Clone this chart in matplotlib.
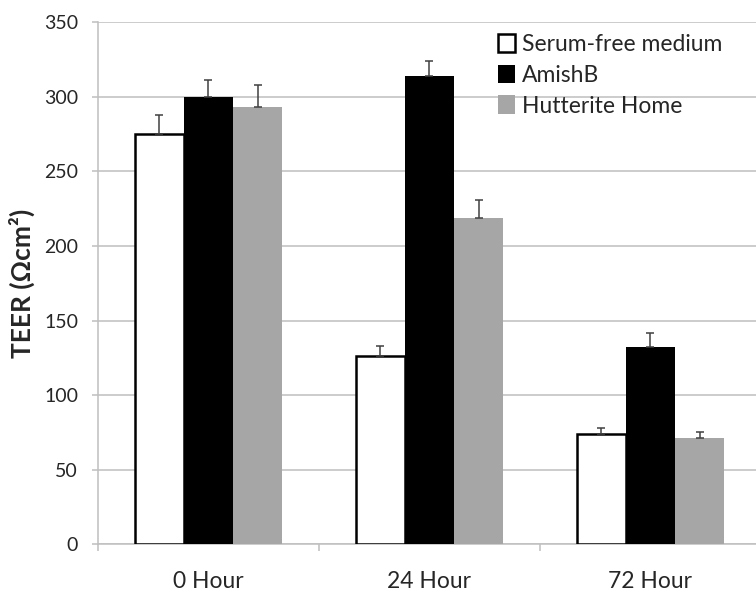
import matplotlib
matplotlib.use("Agg")
import matplotlib.pyplot as plt
import numpy as np
from matplotlib.patches import Patch

plt.rcParams["font.family"] = ["Lato", "DejaVu Sans"]

categories = ["0 Hour", "24 Hour", "72 Hour"]
series = ["Serum-free medium", "AmishB", "Hutterite Home"]
serum_free = [275, 126, 74]
amish_b = [300, 314, 132]
hutterite = [293, 219, 71]
serum_free_err = [13, 7, 4]
amish_b_err = [11, 10, 10]
hutterite_err = [15, 12, 4]

values = [serum_free, amish_b, hutterite]
errors = [serum_free_err, amish_b_err, hutterite_err]
faces = ["white", "black", "#a6a6a6"]
edges = ["black", "black", "#a6a6a6"]
edge_w = [1.8, 0, 0]

fig = plt.figure(figsize=(7.56, 5.93), dpi=100)
ax = fig.add_axes([98 / 756, 1 - 544.3 / 593, 663 / 756, 522 / 593])

x = np.arange(len(categories))
width = 1 / 4.5
for i, (vals, errs) in enumerate(zip(values, errors)):
    pos = x + (i - 1) * width
    ax.bar(pos, vals, width, color=faces[i], edgecolor=edges[i],
           linewidth=edge_w[i], zorder=3, label=series[i])
    ax.errorbar(pos, vals, yerr=[np.zeros(len(errs)), errs], fmt="none",
                ecolor="#404040", elinewidth=1.1, capsize=3.2, capthick=1.1,
                zorder=4)

ax.set_xlim(-0.5, 2.5)
ax.set_ylim(0, 350)
ax.set_yticks(np.arange(0, 351, 50))
ax.yaxis.grid(True, color="#bfbfbf", linewidth=1.1, zorder=0)
ax.set_axisbelow(True)

ax.set_xticks(x)
ax.set_xticklabels(categories, fontsize=16.5)
ax.set_xticks([-0.5, 0.5, 1.5, 2.5], minor=True)
ax.tick_params(axis="x", which="major", length=0, pad=19)
ax.tick_params(axis="x", which="minor", length=5, color="#bfbfbf", width=1.1)
ax.tick_params(axis="y", length=4.3, color="#bfbfbf", width=1.1, labelsize=14,
               pad=10)
ax.tick_params(axis="both", labelcolor="#262626")

for side in ["top", "right"]:
    ax.spines[side].set_visible(False)
for side in ["left", "bottom"]:
    ax.spines[side].set_color("#bfbfbf")
    ax.spines[side].set_linewidth(1.1)

ax.set_ylabel("TEER (Ωcm²)", fontsize=19, fontweight="bold", color="#262626")
ax.yaxis.set_label_coords(-0.095, 0.5)

handles = [Patch(facecolor=f, edgecolor=e, linewidth=1.8 if i == 0 else 0)
           for i, (f, e) in enumerate(zip(faces, edges))]
ax.legend(handles, series, loc="upper left", bbox_to_anchor=(0.589, 0.995),
          frameon=False, fontsize=16.5, labelcolor="#262626",
          handlelength=0.75, handleheight=0.85, handletextpad=0.3,
          labelspacing=0.42, borderaxespad=0)

fig.savefig("out.png", dpi=100)
